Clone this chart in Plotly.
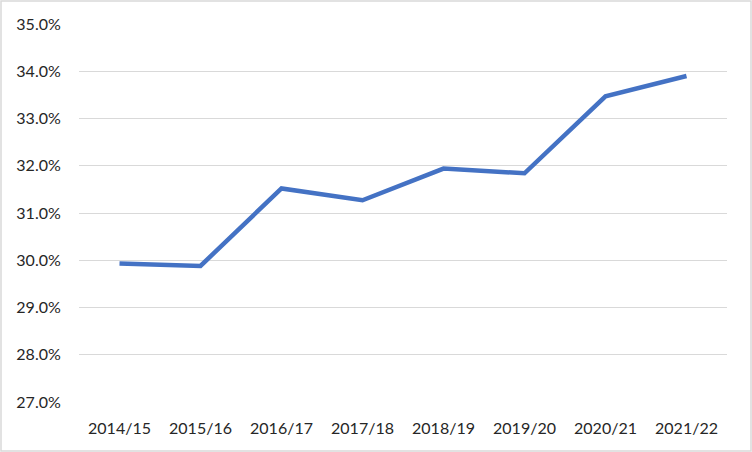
import plotly.graph_objects as go

years = ["2014/15", "2015/16", "2016/17", "2017/18", "2018/19", "2019/20", "2020/21", "2021/22"]
share = [0.2993, 0.2988, 0.3152, 0.3127, 0.3194, 0.3184, 0.3347, 0.3390]
y_ticks = [0.27, 0.28, 0.29, 0.30, 0.31, 0.32, 0.33, 0.34, 0.35]

W, H = 752, 452
ml, mr, mt, mb = 79, 25, 24, 50
pw, ph = W - ml - mr, H - mt - mb

fig = go.Figure(go.Scatter(
    x=years, y=share, mode="lines",
    line=dict(color="#4472C4", width=4.5),
    hoverinfo="x+y",
))

font = dict(family="Lato, Open Sans, sans-serif", size=16, color="#262626")

fig.update_layout(
    width=W, height=H,
    margin=dict(l=ml, r=mr, t=mt, b=mb),
    paper_bgcolor="white", plot_bgcolor="white",
    font=font,
    showlegend=False,
    xaxis=dict(
        type="category", showgrid=False, zeroline=False, showline=False,
        ticks="outside", ticklen=12, tickcolor="rgba(0,0,0,0)",
        range=[-0.5, len(years) - 0.5],
    ),
    yaxis=dict(
        range=[0.27, 0.35], tickvals=y_ticks, tickformat=".1%",
        showgrid=True, gridcolor="#d9d9d9", gridwidth=1.3,
        zeroline=False, showline=False,
        ticks="outside", ticklen=14, tickcolor="rgba(0,0,0,0)",
    ),
    shapes=[dict(
        type="rect", xref="paper", yref="paper",
        x0=(1 - ml) / pw, x1=(W - 1 - ml) / pw,
        y0=-(mb - 1) / ph, y1=(H - mb - 1) / ph,
        line=dict(color="#d9d9d9", width=1.5), layer="below",
    )],
)

fig.write_html(
    "out.html",
    config={"displayModeBar": False},
    post_script="document.body.style.margin='0';document.body.style.overflow='hidden';",
)
